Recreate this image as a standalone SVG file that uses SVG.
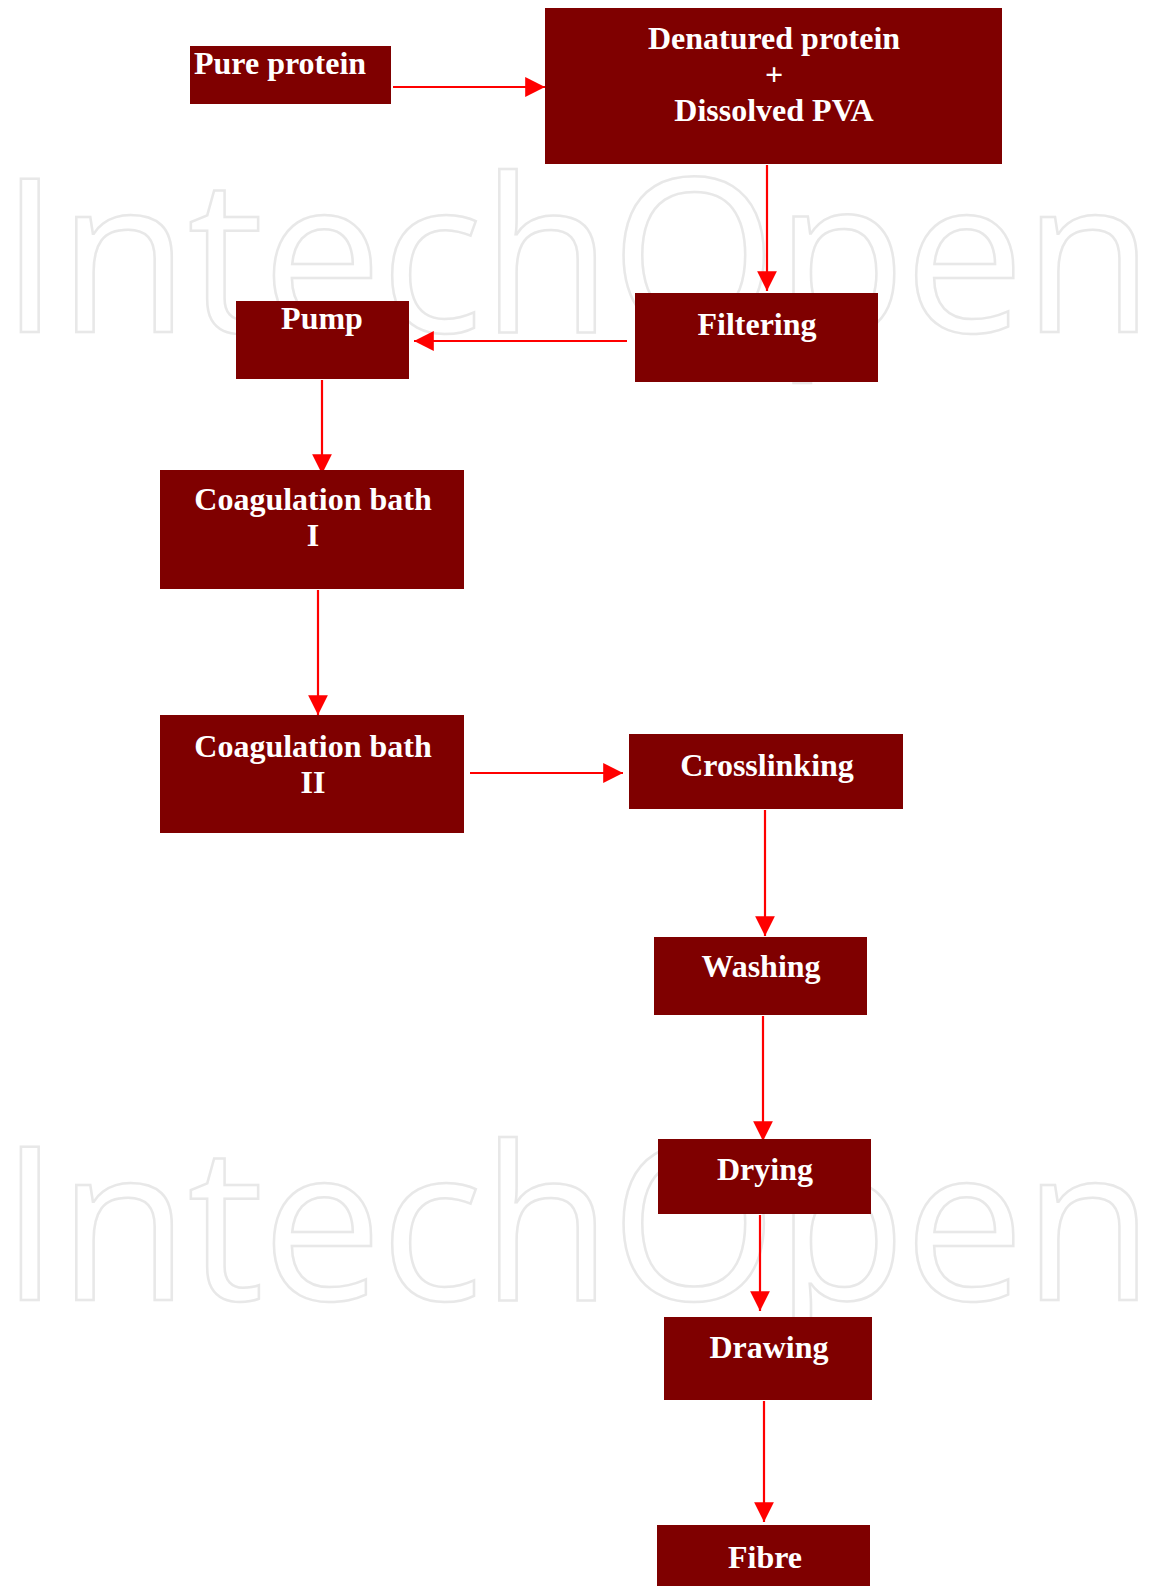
<svg xmlns="http://www.w3.org/2000/svg" width="1156" height="1586" viewBox="0 0 1156 1586">
<defs>
<marker id="ah" viewBox="0 0 10 10" refX="10" refY="5" markerWidth="9" markerHeight="9" markerUnits="strokeWidth" orient="auto">
<path d="M0,0 L10,5 L0,10 z" fill="#ff0000"/>
</marker>
<style>
.wm{font-family:"Open Sans",sans-serif;font-size:214px;font-weight:500;fill:none;stroke:#e8e8e8;stroke-width:2.5}
.box{fill:#7f0000}
.t{font-family:"Liberation Serif","Times New Roman",serif;font-weight:bold;font-size:32px;fill:#ffffff;text-anchor:middle}
.c{stroke:#ff0000;stroke-width:2.2;fill:none;marker-end:url(#ah)}
</style>
</defs>
<rect width="1156" height="1586" fill="#ffffff"/>
<g id="watermark">
<text class="wm" x="0" y="332" textLength="1154" lengthAdjust="spacing">IntechOpen</text>
<text class="wm" x="0" y="1300" textLength="1154" lengthAdjust="spacing">IntechOpen</text>
</g>
<g id="connectors">
<line class="c" x1="393" y1="87" x2="545" y2="87"/>
<line class="c" x1="767" y1="165" x2="767" y2="291"/>
<line class="c" x1="627" y1="341" x2="414" y2="341"/>
<line class="c" x1="322" y1="380" x2="322" y2="474"/>
<line class="c" x1="318" y1="590" x2="318" y2="715"/>
<line class="c" x1="470" y1="773" x2="623" y2="773"/>
<line class="c" x1="765" y1="810" x2="765" y2="936"/>
<line class="c" x1="763" y1="1016" x2="763" y2="1141"/>
<line class="c" x1="760" y1="1215" x2="760" y2="1311"/>
<line class="c" x1="764" y1="1401" x2="764" y2="1522"/>
</g>
<g id="pure-protein">
<rect class="box" x="190" y="46" width="201" height="58"/>
<text class="t" x="194" y="74" style="text-anchor:start">Pure protein</text>
</g>
<g id="denatured">
<rect class="box" x="545" y="8" width="457" height="156"/>
<text class="t" x="774" y="49">Denatured protein</text>
<text class="t" x="774" y="85">+</text>
<text class="t" x="774" y="121">Dissolved PVA</text>
</g>
<g id="filtering">
<rect class="box" x="635" y="293" width="243" height="89"/>
<text class="t" x="757" y="335">Filtering</text>
</g>
<g id="pump">
<rect class="box" x="236" y="301" width="173" height="78"/>
<text class="t" x="322" y="329">Pump</text>
</g>
<g id="coag1">
<rect class="box" x="160" y="470" width="304" height="119"/>
<text class="t" x="313" y="510">Coagulation bath</text>
<text class="t" x="313" y="546">I</text>
</g>
<g id="coag2">
<rect class="box" x="160" y="715" width="304" height="118"/>
<text class="t" x="313" y="757">Coagulation bath</text>
<text class="t" x="313" y="793">II</text>
</g>
<g id="crosslinking">
<rect class="box" x="629" y="734" width="274" height="75"/>
<text class="t" x="767" y="776">Crosslinking</text>
</g>
<g id="washing">
<rect class="box" x="654" y="937" width="213" height="78"/>
<text class="t" x="761" y="977">Washing</text>
</g>
<g id="drying">
<rect class="box" x="658" y="1139" width="213" height="75"/>
<text class="t" x="765" y="1180">Drying</text>
</g>
<g id="drawing">
<rect class="box" x="664" y="1317" width="208" height="83"/>
<text class="t" x="769" y="1358">Drawing</text>
</g>
<g id="fibre">
<rect class="box" x="657" y="1525" width="213" height="61"/>
<text class="t" x="765" y="1568">Fibre</text>
</g>
</svg>
